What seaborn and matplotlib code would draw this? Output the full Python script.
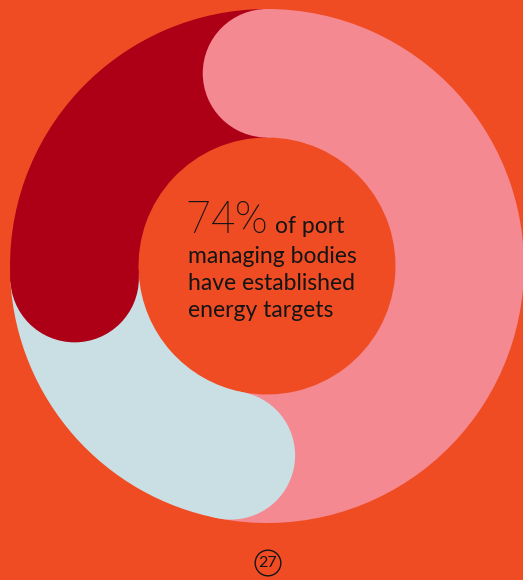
import numpy as np
import matplotlib
matplotlib.use("Agg")
import matplotlib.pyplot as plt
from matplotlib.patches import Circle
import seaborn as sns

# Shares of port managing bodies (percent), clockwise from 12 o'clock
categories = ["Targets set (A)", "Targets set (B)", "No targets"]
shares = [53, 21, 26]
headline_value = "74%"
headline_rest = "of port"
body_lines = ["managing bodies", "have established", "energy targets"]
page_number = "27"

BG = "#F04C24"
palette = sns.color_palette(["#F48991", "#CADFE4", "#AD0017"])
INK = "#141414"

sns.set_theme(style="white")
plt.rcParams["font.family"] = ["Lato", "DejaVu Sans"]

W, H, DPI = 523, 580, 100
fig = plt.figure(figsize=(W / DPI, H / DPI), dpi=DPI, facecolor=BG)

# Ring: centre at (267, 266) px from top-left, outer radius 257 px
cx, cy, R = 267, 266, 257
ax = fig.add_axes([(cx - R) / W, (H - cy - R) / H, 2 * R / W, 2 * R / H])
ax.set_facecolor(BG)

ring_w = 0.5
ax.pie(shares, colors=palette, startangle=90, counterclock=False,
       radius=1.0, wedgeprops=dict(width=ring_w, linewidth=0, edgecolor="none"))

# Rounded start cap for each segment, laid over the end of the previous one
mid_r = 1.0 - ring_w / 2
starts = np.concatenate([[0], np.cumsum(shares)[:-1]]) / np.sum(shares)
for frac, col in zip(starts, palette):
    theta = np.deg2rad(90 - 360 * frac)
    ax.add_patch(Circle((mid_r * np.cos(theta), mid_r * np.sin(theta)),
                        ring_w / 2, facecolor=col, edgecolor="none",
                        linewidth=0, zorder=5))

ax.set_xlim(-1, 1)
ax.set_ylim(-1, 1)
ax.set_aspect("equal", adjustable="box")
ax.axis("off")


def px(x, y):
    """Pixel position (from top-left) to figure fraction."""
    return x / W, 1 - y / H


# Centre statement
fig.text(*px(186, 233), headline_value, fontsize=32, fontweight="light",
         family=["Roboto", "DejaVu Sans"], color=INK, va="baseline",
         ha="left", zorder=10)
fig.text(*px(275, 233), headline_rest, fontsize=16.5, color=INK,
         va="baseline", ha="left", zorder=10)
for i, line in enumerate(body_lines):
    fig.text(*px(188, 263 + 27 * i), line, fontsize=16.5, color=INK,
             va="baseline", ha="left", zorder=10)

# Page number in a circle
pn_x, pn_y = px(268, 563)
fig.text(pn_x, pn_y, page_number, fontsize=11.5, color=INK, ha="center",
         va="center",
         bbox=dict(boxstyle="circle,pad=0.22", facecolor="none",
                   edgecolor=INK, linewidth=1.0))

fig.savefig("out.png", dpi=DPI, facecolor=BG)
